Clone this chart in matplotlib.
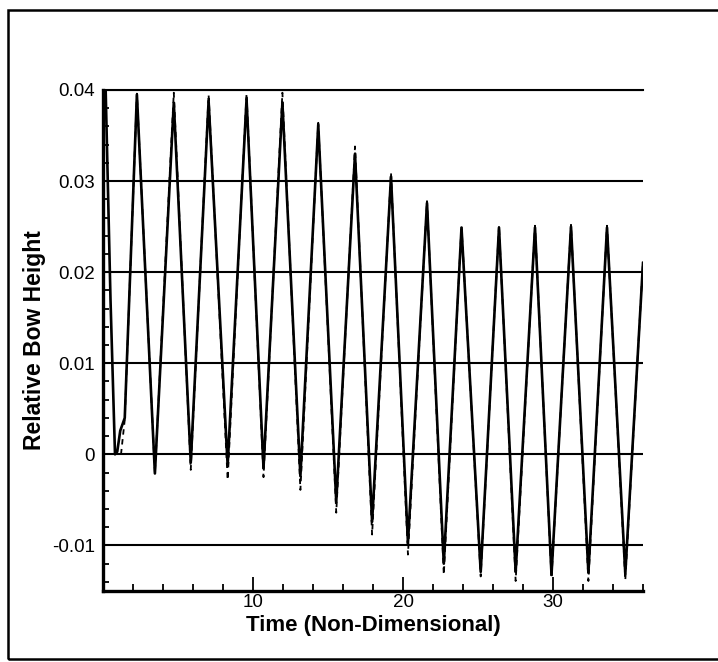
import matplotlib.pyplot as plt
from matplotlib.patches import Rectangle
from matplotlib.ticker import MultipleLocator

plt.rcParams['font.family'] = ['Liberation Sans', 'DejaVu Sans']

# solid curve (times and heights)
solid_t = [0.15, 0.5, 0.8, 0.95, 1.15, 1.45,
           2.26, 3.46, 4.72, 5.85, 7.04, 8.31, 9.57, 10.70, 11.96, 13.16,
           14.35, 15.55, 16.80, 17.94, 19.20, 20.33, 21.60, 22.72, 23.90, 25.18,
           26.40, 27.51, 28.80, 29.90, 31.20, 32.36, 33.60, 34.82, 36.0]
solid_y = [0.0420, 0.0170, 0.0000, 0.0003, 0.0026, 0.0040,
           0.0395, -0.0021, 0.0386, -0.0009, 0.0388, -0.0012, 0.0390, -0.0015, 0.0386, -0.0024,
           0.0362, -0.0052, 0.0330, -0.0074, 0.0305, -0.0097, 0.0276, -0.0120, 0.0249, -0.0129,
           0.0249, -0.0129, 0.0249, -0.0132, 0.0250, -0.0130, 0.0249, -0.0131, 0.0210]

# dashed curve
dash_t = [1.2, 1.45,
          2.26, 3.46, 4.72, 5.85, 7.04, 8.31, 9.57, 10.70, 11.96, 13.16,
          14.35, 15.55, 16.80, 17.94, 19.20, 20.33, 21.60, 22.72, 23.90, 25.18,
          26.40, 27.51, 28.80, 29.90, 31.20, 32.36, 33.60, 34.82, 36.0]
dash_y = [0.0000, 0.0038,
          0.0396, -0.0021, 0.0397, -0.0017, 0.0395, -0.0028, 0.0396, -0.0025, 0.0397, -0.0039,
          0.0364, -0.0064, 0.0338, -0.0088, 0.0309, -0.0110, 0.0278, -0.0132, 0.0251, -0.0134,
          0.0251, -0.0139, 0.0251, -0.0136, 0.0252, -0.0139, 0.0251, -0.0138, 0.0212]

yticks = [-0.01, 0, 0.01, 0.02, 0.03, 0.04]
ytick_labels = ['-0.01', '0', '0.01', '0.02', '0.03', '0.04']
xticks = [10, 20, 30]

fig = plt.figure(figsize=(7.18, 6.62), dpi=100)
ax = fig.add_axes([103/718, 1 - 591/662, 540/718, 501/662])

for v in yticks:
    ax.axhline(v, color='black', lw=1.5, zorder=1)

ax.plot(dash_t, dash_y, color='black', lw=1.3, linestyle=(0, (3, 2.5)), zorder=2)
ax.plot(solid_t, solid_y, color='black', lw=1.9, solid_joinstyle='round', zorder=3)

ax.set_xlim(0, 36)
ax.set_ylim(-0.015, 0.04)
ax.set_xticks(xticks)
ax.set_xticklabels([str(v) for v in xticks])
ax.set_yticks(yticks)
ax.set_yticklabels(ytick_labels)
ax.xaxis.set_minor_locator(MultipleLocator(2))
ax.yaxis.set_minor_locator(MultipleLocator(0.002))
ax.tick_params(which='both', direction='in', top=False, right=False, width=1.3, labelsize=13.5)
ax.tick_params(axis='x', which='major', length=10, pad=2)
ax.tick_params(axis='x', which='minor', length=5)
ax.tick_params(axis='y', which='major', length=8, pad=6)
ax.tick_params(axis='y', which='minor', length=4)

ax.spines['right'].set_visible(False)
ax.spines['left'].set_linewidth(2.4)
ax.spines['bottom'].set_linewidth(2.4)
ax.spines['top'].set_linewidth(1.5)

fig.text(373/718, 1 - 626/662, 'Time (Non-Dimensional)', ha='center', va='center',
         fontsize=16, fontweight='bold')
fig.text(35/718, 1 - 340/662, 'Relative Bow Height', ha='center', va='center',
         rotation=90, fontsize=16.5, fontweight='bold')

# outer frame
fig.patches.append(Rectangle((8/718, 1 - 659/662), 1.0, 649/662, transform=fig.transFigure,
                             fill=False, edgecolor='black', lw=1.8, clip_on=False))

fig.savefig('out.png', dpi=100)
